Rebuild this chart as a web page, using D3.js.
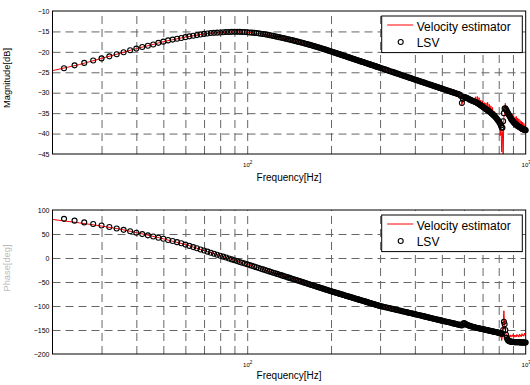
<!DOCTYPE html>
<html>
<head>
<meta charset="utf-8">
<script src="https://cdn.jsdelivr.net/npm/d3@7/dist/d3.min.js"></script>
<style>
  body { margin: 0; background: #fff; }
  svg { display: block; font-family: "Liberation Sans", Arial, sans-serif; }
</style>
</head>
<body>
<svg id="chart" width="530" height="385"></svg>
<script>
// LSV samples (circles)
const lsvFreq = [22,24,26,28,30,32,34,36,38,40,42,44,46,48,50,52,54,56,58,60,62,64,66,68,70,72,74,76,78,80,82,84,86,88,90,92,94,96,98,100,
  102,104,106,108,110,112,114,116,118,120,122,124,126,128,130,132,134,136,138,140,142,144,146,148,150,
  152,154,156,158,160,162,164,166,168,170,172,174,176,178,180,182,184,186,188,190,192,194,196,198,200,
  202,204,206,208,210,212,214,216,218,220,222,224,226,228,230,232,234,236,238,240,242,244,246,248,250,
  252,254,256,258,260,262,264,266,268,270,272,274,276,278,280,282,284,286,288,290,292,294,296,298,300,
  304,308,312,316,320,324,328,332,336,340,344,348,352,356,360,364,368,372,376,380,384,388,392,396,400,
  404,408,412,416,420,424,428,432,436,440,444,448,452,456,460,464,468,472,476,480,484,488,492,496,500,
  505,510,515,520,525,530,535,540,545,550,555,560,565,570,575,580,585,590,595,600,
  605,610,615,620,625,630,635,640,645,650,655,660,665,670,675,680,685,690,695,700,
  705,710,715,720,725,730,735,740,745,750,755,760,765,770,775,780,785,790,795,800,
  805,810,815,820,825,830,835,840,845,850,855,860,865,870,875,880,885,890,895,900,
  905,910,915,920,925,930,935,940,945,950,955,960,965,970,975,980,985,990,995,1000];
const lsvMag = [-24.0,-23.3,-22.7,-22.1,-21.6,-21.1,-20.6,-20.1,-19.6,-19.2,-18.8,-18.5,-18.2,-17.8,-17.5,-17.2,-17.0,-16.8,-16.6,-16.4,-16.2,-16.05,-15.9,-15.75,-15.6,-15.5,-15.4,-15.35,-15.3,-15.25,-15.2,-15.15,-15.15,-15.1,-15.1,-15.1,-15.1,-15.15,-15.15,-15.2,
  -15.25,-15.3,-15.35,-15.4,-15.47,-15.55,-15.62,-15.7,-15.8,-15.9,-16.0,-16.1,-16.2,-16.3,-16.4,-16.5,-16.6,-16.7,-16.8,-16.9,-17.0,-17.1,-17.2,-17.3,-17.4,
  -17.5,-17.6,-17.7,-17.8,-17.9,-18.0,-18.1,-18.2,-18.3,-18.4,-18.5,-18.6,-18.7,-18.8,-18.9,-19.0,-19.1,-19.2,-19.3,-19.4,-19.5,-19.6,-19.7,-19.8,-19.9,
  -20.0,-20.09,-20.19,-20.28,-20.38,-20.47,-20.56,-20.65,-20.75,-20.84,-20.93,-21.02,-21.1,-21.19,-21.28,-21.36,-21.45,-21.53,-21.62,-21.7,-21.78,-21.86,-21.94,-22.02,-22.1,
  -22.18,-22.26,-22.34,-22.41,-22.49,-22.56,-22.63,-22.71,-22.78,-22.86,-22.93,-23.0,-23.07,-23.15,-23.22,-23.29,-23.36,-23.42,-23.49,-23.56,-23.63,-23.7,-23.76,-23.83,-23.9,
  -24.03,-24.16,-24.29,-24.42,-24.54,-24.67,-24.79,-24.91,-25.03,-25.15,-25.27,-25.38,-25.5,-25.61,-25.72,-25.83,-25.94,-26.05,-26.16,-26.26,-26.37,-26.47,-26.57,-26.67,-26.77,
  -26.87,-26.97,-27.07,-27.17,-27.26,-27.36,-27.45,-27.54,-27.63,-27.73,-27.82,-27.91,-27.99,-28.08,-28.17,-28.26,-28.34,-28.43,-28.51,-28.59,-28.68,-28.76,-28.84,-28.92,-29.0,
  -29.1,-29.2,-29.3,-29.39,-29.49,-29.58,-29.68,-29.77,-29.86,-29.95,-30.04,-30.13,-30.22,-30.31,-30.4,-30.49,-30.8,-32.5,-31.5,-31.0,
  -31.1,-31.2,-31.3,-31.4,-31.55,-31.7,-31.8,-31.9,-32.0,-32.1,-32.2,-32.3,-32.4,-32.5,-32.65,-32.8,-32.95,-33.1,-33.25,-33.4,
  -33.55,-33.7,-33.85,-34.0,-34.15,-34.3,-34.45,-34.6,-34.75,-34.9,-35.1,-35.3,-35.45,-35.6,-35.8,-36.0,-36.25,-36.5,-36.75,-37.0,
  -37.3,-37.6,-38.0,-38.5,-38.6,-37.0,-35.0,-33.9,-33.8,-34.1,-34.4,-34.8,-35.1,-35.4,-35.7,-36.0,-36.3,-36.6,-36.8,-37.0,
  -37.2,-37.4,-37.55,-37.7,-37.85,-38.0,-38.1,-38.2,-38.3,-38.4,-38.5,-38.6,-38.7,-38.8,-38.9,-38.95,-39.0,-39.1,-39.15,-39.2];
const lsvPhase = [81.6,77.8,74.2,70.8,67.6,64.6,61.6,58.6,55.6,52.6,49.8,47.2,44.7,42.3,40.0,37.6,35.3,33.0,30.6,27.9,25.2,22.7,20.2,17.8,15.5,13.2,11.0,8.9,6.8,4.8,2.8,0.9,-1.0,-2.9,-4.7,-6.5,-8.2,-9.9,-11.5,-13.2,
  -14.8,-16.4,-17.9,-19.4,-20.9,-22.4,-23.8,-25.2,-26.6,-27.9,-29.3,-30.6,-31.9,-33.1,-34.4,-35.6,-36.8,-38.0,-39.2,-40.4,-41.5,-42.7,-43.8,-44.9,-46.0,
  -47.0,-48.1,-49.1,-50.2,-51.2,-52.2,-53.2,-54.1,-55.1,-56.1,-57.0,-57.9,-58.9,-59.8,-60.7,-61.6,-62.5,-63.3,-64.2,-65.0,-65.9,-66.7,-67.6,-68.4,-69.2,
  -70.0,-70.7,-71.4,-72.2,-72.9,-73.6,-74.3,-75.0,-75.7,-76.4,-77.1,-77.8,-78.5,-79.2,-79.8,-80.5,-81.1,-81.8,-82.4,-83.1,-83.7,-84.3,-84.9,-85.5,-86.2,
  -86.8,-87.4,-88.0,-88.6,-89.1,-89.7,-90.3,-90.9,-91.4,-92.0,-92.6,-93.1,-93.7,-94.2,-94.8,-95.3,-95.9,-96.4,-96.9,-97.4,-98.0,-98.5,-99.0,-99.5,-100.0,
  -100.8,-101.6,-102.3,-103.1,-103.8,-104.5,-105.3,-106.0,-106.7,-107.4,-108.1,-108.8,-109.4,-110.1,-110.8,-111.4,-112.1,-112.7,-113.3,-114.0,-114.6,-115.2,-115.8,-116.4,-117.0,
  -117.6,-118.2,-118.8,-119.4,-119.9,-120.5,-121.1,-121.6,-122.2,-122.8,-123.3,-123.8,-124.4,-124.9,-125.4,-126.0,-126.5,-127.0,-127.5,-128.0,-128.5,-129.0,-129.5,-130.0,-130.5,
  -131.1,-131.7,-132.3,-132.8,-133.4,-134.0,-134.5,-135.1,-135.7,-136.2,-136.8,-137.3,-137.9,-138.4,-138.9,-139.4,-140.0,-140.5,-137.0,-135.5,
  -136.8,-138.0,-139.0,-140.0,-140.8,-141.5,-142.2,-142.8,-143.3,-143.8,-144.3,-144.8,-145.3,-145.7,-146.2,-146.6,-147.0,-147.4,-147.8,-148.2,
  -148.6,-149.0,-149.4,-149.8,-150.2,-150.6,-151.0,-151.4,-151.8,-152.1,-152.5,-152.9,-153.3,-153.6,-154.0,-154.3,-154.7,-155.0,-155.4,-155.7,
  -156.1,-156.5,-157.0,-157.5,-158.0,-150.0,-133.0,-138.0,-150.0,-160.0,-166.0,-170.0,-172.0,-173.0,-173.6,-174.0,-174.3,-174.6,-174.8,-175.0,
  -175.1,-175.2,-175.3,-175.4,-175.45,-175.5,-175.55,-175.6,-175.65,-175.7,-175.75,-175.8,-175.85,-175.9,-175.95,-176.0,-176.0,-176.0,-176.05,-176.1];

// Velocity estimator (red line)
const veFreq = [20,25,30,35,40,45,50,60,70,80,90,100,120,140,160,180,200,250,300,350,400,450,500,530,555,
  560,565,570,575,580,585,590,595,600,605,610,615,620,625,630,635,640,645,650,655,660,665,670,675,680,685,690,695,700,
  705,710,715,720,725,730,735,740,745,750,755,760,765,770,775,780,785,790,795,800,805,810,815,820,825,830,835,840,845,850,
  855,860,865,870,875,880,885,890,895,900,905,910,915,920,925,930,935,940,945,950,955,960,965,970,975,980,985,990,995,1000];
const veMag = [-24.6,-23.1,-21.6,-20.35,-19.2,-18.35,-17.5,-16.4,-15.6,-15.25,-15.1,-15.2,-15.9,-16.9,-17.9,-18.9,-19.9,-22.1,-23.9,-25.44,-26.77,-27.95,-29.0,-29.5,-30.0,
  -30.1,-30.3,-30.1,-30.6,-30.4,-31.2,-33.0,-32.0,-30.6,-31.3,-30.8,-31.6,-31.0,-31.9,-31.2,-32.0,-31.4,-32.3,-31.3,-32.4,-31.0,-32.6,-30.9,-33.0,-31.2,-33.2,-31.8,-33.5,-32.0,
  -33.9,-32.4,-34.0,-32.5,-34.3,-32.3,-34.7,-32.8,-35.0,-33.2,-35.4,-33.6,-35.8,-34.5,-36.2,-34.9,-36.6,-35.6,-37.2,-36.0,-38.0,-40.5,-37.5,-44.5,-39.5,-45.0,-36.0,-35.0,-32.6,-35.5,
  -33.5,-35.8,-34.0,-36.2,-34.6,-36.5,-35.0,-36.9,-35.3,-37.5,-35.6,-37.8,-36.0,-38.2,-35.8,-38.5,-36.2,-38.8,-36.4,-38.4,-36.8,-39.5,-37.0,-39.3,-37.2,-39.8,-37.5,-39.5,-38.0,-39.6];
const vePhase = [80.3,73.2,66.6,60.0,53.0,46.3,40.0,28.0,15.5,4.8,-4.7,-13.2,-27.9,-40.4,-51.2,-60.7,-69.2,-86.2,-100.0,-109.1,-117.0,-124.1,-130.5,-134.0,-137.2,
  -137.8,-138.6,-138.2,-139.5,-139.0,-141.5,-141.0,-135.0,-136.5,-137.5,-138.5,-139.5,-140.5,-141.0,-142.0,-142.5,-143.2,-143.5,-144.5,-144.6,-145.5,-145.5,-146.2,-146.5,-147.0,-147.4,-148.0,-148.2,-149.0,
  -148.6,-149.5,-149.8,-150.2,-150.5,-151.2,-151.0,-152.0,-151.8,-153.0,-152.6,-153.5,-153.0,-154.2,-154.5,-155.0,-155.2,-156.5,-158.5,-162.0,-157.0,-165.0,-159.0,-172.0,-160.0,-135.0,-110.0,-140.0,-150.0,-158.0,
  -163.0,-160.0,-166.0,-161.0,-164.0,-160.0,-165.0,-161.5,-163.5,-159.5,-164.0,-160.5,-165.0,-161.0,-164.5,-159.0,-163.0,-161.0,-165.0,-158.5,-163.5,-160.0,-164.0,-157.5,-162.0,-160.0,-163.0,-156.5,-161.0,-160.0];

const gridFreq = [30,40,50,60,70,80,90,100,200,300,400,500,600,700,800,900];
const magTicks = [-10,-15,-20,-25,-30,-35,-40,-45];
const phaseTicks = [100,50,0,-50,-100,-150,-200];
const legendNames = ["Velocity estimator", "LSV"];

const svg = d3.select("#chart");
const x = d3.scaleLog().domain([20, 1000]).range([52.5, 525.7]);

function drawPanel(opt) {
  const y = d3.scaleLinear().domain(opt.domain).range([opt.bottom, opt.top]);
  const h = opt.bottom - opt.top;
  const g = svg.append("g");

  // vertical grid
  const vg = g.append("g")
    .attr("transform", "translate(0," + opt.bottom + ")")
    .call(d3.axisBottom(x).tickValues(gridFreq).tickSize(-h).tickFormat(""));
  vg.select(".domain").remove();
  vg.selectAll("line").attr("stroke", "#666").attr("stroke-dasharray", "8,5");

  // horizontal grid
  const hg = g.append("g")
    .attr("transform", "translate(" + x.range()[0] + ",0)")
    .call(d3.axisLeft(y).tickValues(opt.ticks.slice(1, -1)).tickSize(-(x.range()[1] - x.range()[0])).tickFormat(""));
  hg.select(".domain").remove();
  hg.selectAll("line").attr("stroke", "#666").attr("stroke-dasharray", "8,5");

  // y tick labels
  const ya = g.append("g")
    .attr("transform", "translate(" + x.range()[0] + ",0)")
    .call(d3.axisLeft(y).tickValues(opt.ticks).tickSize(0).tickPadding(3));
  ya.select(".domain").remove();
  ya.selectAll("text").attr("font-size", 7).attr("fill", "#000")
    .attr("font-family", "Liberation Sans, Arial, sans-serif");

  // x tick labels 10^2, 10^3
  const xa = g.append("g")
    .attr("transform", "translate(0," + opt.bottom + ")")
    .call(d3.axisBottom(x).tickValues([100, 1000]).tickSize(0).tickFormat(""));
  xa.select(".domain").remove();
  xa.selectAll("text").each(function(d) {
    const t = d3.select(this).attr("y", 13).attr("dy", null)
      .attr("font-size", 6).attr("fill", "#000")
      .attr("font-family", "Liberation Sans, Arial, sans-serif");
    t.append("tspan").text("10");
    t.append("tspan").attr("dy", -3).attr("font-size", 4.5).text(Math.round(Math.log10(d)));
  });

  // series
  const vePts = veFreq.map((f, i) => [f, opt.ve[i]]);
  g.append("path")
    .datum(vePts)
    .attr("fill", "none")
    .attr("stroke", "#ff0000")
    .attr("stroke-width", 1)
    .attr("d", d3.line().x(d => x(d[0])).y(d => y(d[1])));

  g.append("g").selectAll("circle")
    .data(lsvFreq.map((f, i) => [f, opt.lsv[i]]))
    .enter().append("circle")
    .attr("cx", d => x(d[0]))
    .attr("cy", d => y(d[1]))
    .attr("r", 2.5)
    .attr("fill", "none")
    .attr("stroke", "#000")
    .attr("stroke-width", 1.1);

  // frame
  g.append("rect")
    .attr("x", x.range()[0]).attr("y", opt.top)
    .attr("width", x.range()[1] - x.range()[0]).attr("height", h)
    .attr("fill", "none").attr("stroke", "#000").attr("stroke-width", 1);

  // legend
  const lg = g.append("g").attr("transform", "translate(381.7," + (opt.top + 5) + ")");
  lg.append("rect").attr("width", 140.6).attr("height", 36.6)
    .attr("fill", "#fff").attr("stroke", "#000").attr("stroke-width", 1);
  lg.append("line").attr("x1", 5.5).attr("x2", 31.5).attr("y1", 9).attr("y2", 9)
    .attr("stroke", "#ff0000").attr("stroke-width", 1);
  lg.append("circle").attr("cx", 19).attr("cy", 26).attr("r", 2.5)
    .attr("fill", "none").attr("stroke", "#000").attr("stroke-width", 1.1);
  lg.selectAll("text.lbl").data(legendNames).enter().append("text")
    .attr("x", 35).attr("y", (d, i) => 14.5 + i * 16)
    .attr("font-size", 12).attr("fill", "#000").text(d => d);

  // axis labels
  g.append("text")
    .attr("x", (x.range()[0] + x.range()[1]) / 2).attr("y", opt.xlabelY)
    .attr("text-anchor", "middle").attr("font-size", 10).attr("fill", "#000")
    .text("Frequency[Hz]");
  g.append("text")
    .attr("transform", "translate(" + opt.ylabelX + "," + opt.ylabelY + ") rotate(-90)")
    .attr("text-anchor", "middle").attr("font-size", 9.3).attr("fill", opt.ylabelColor)
    .text(opt.ylabel);
}

drawPanel({ top: 11, bottom: 154, domain: [-45, -10], ticks: magTicks,
  lsv: lsvMag, ve: veMag, xlabelY: 181, ylabel: "Magnitude[dB]", ylabelX: 10, ylabelY: 78, ylabelColor: "#000" });
drawPanel({ top: 210, bottom: 354, domain: [-200, 100], ticks: phaseTicks,
  lsv: lsvPhase, ve: vePhase, xlabelY: 379, ylabel: "Phase[deg]", ylabelX: 10, ylabelY: 268, ylabelColor: "#bbb" });
</script>
</body>
</html>
